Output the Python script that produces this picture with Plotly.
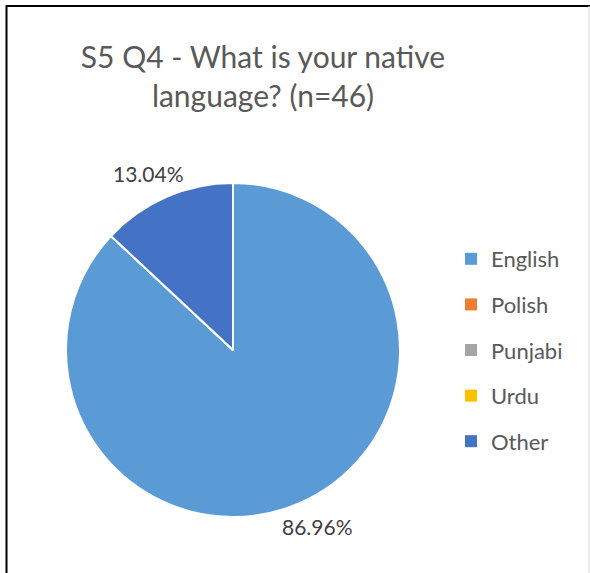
import math
import plotly.graph_objects as go

# Survey responses: native language
languages = ["English", "Polish", "Punjabi", "Urdu", "Other"]
shares = [86.96, 0, 0, 0, 13.04]
colors = ["#5B9BD5", "#ED7D31", "#A5A5A5", "#FFC000", "#4472C4"]
title_text = "S5 Q4 - What is your native<br>language? (n=46)"

W, H = 590, 573
FONT = "Lato, 'Open Sans', sans-serif"

# pie geometry in pixels
CX, CY, R = 233, 350, 167

fig = go.Figure()
fig.add_trace(go.Pie(
    labels=languages,
    values=shares,
    sort=False,
    direction="clockwise",
    rotation=0,
    marker=dict(colors=colors, line=dict(color="white", width=2)),
    textinfo="none",
    showlegend=False,
    domain=dict(x=[(CX - R) / W, (CX + R) / W], y=[1 - (CY + R) / H, 1 - (CY - R) / H]),
    hoverinfo="label+percent",
))

# percentage labels just outside each non-empty slice, at the slice's mid angle
# (wider offset horizontally, since the label text is wider than tall)
total = sum(shares)
start = 0.0
annotations = []
for v in shares:
    frac = v / total
    if v > 0:
        mid = (start + frac / 2) * 2 * math.pi
        px = CX + (R + 46) * math.sin(mid)
        py = CY - (R + 25) * math.cos(mid)
        annotations.append(dict(
            x=px / W, y=1 - py / H, xref="paper", yref="paper",
            xanchor="center", yanchor="middle",
            text=f"{frac * 100:.2f}%", showarrow=False,
            font=dict(family=FONT, size=21, color="#404040"),
        ))
    start += frac

# legend entries, one group each so they can be spaced apart
for name, col in zip(languages, colors):
    fig.add_trace(go.Scatter(
        x=[None], y=[None], mode="markers", name=name, legendgroup=name,
        marker=dict(symbol="square", size=9, color=col),
    ))

fig.update_layout(
    width=W, height=H,
    margin=dict(l=0, r=0, t=0, b=0),
    paper_bgcolor="white", plot_bgcolor="white",
    xaxis=dict(visible=False), yaxis=dict(visible=False),
    title=dict(text=title_text, x=263 / W, xanchor="center",
               y=1 - 68 / H, yanchor="top",
               font=dict(family=FONT, size=30, color="#595959")),
    legend=dict(x=451 / W, y=1 - 238 / H, xanchor="left", yanchor="top",
                font=dict(family=FONT, size=22, color="#595959"),
                tracegroupgap=14, itemsizing="constant",
                bgcolor="rgba(0,0,0,0)"),
    annotations=annotations,
    shapes=[
        dict(type="line", xref="paper", yref="paper",
             x0=6 / W, x1=1, y0=1 - 6 / H, y1=1 - 6 / H,
             line=dict(color="black", width=2)),
        dict(type="line", xref="paper", yref="paper",
             x0=6.5 / W, x1=6.5 / W, y0=0, y1=1 - 5 / H,
             line=dict(color="black", width=2)),
        dict(type="line", xref="paper", yref="paper",
             x0=589 / W, x1=589 / W, y0=0, y1=1 - 6 / H,
             line=dict(color="#D9D9D9", width=1)),
    ],
)

fig.write_html("out.html")
